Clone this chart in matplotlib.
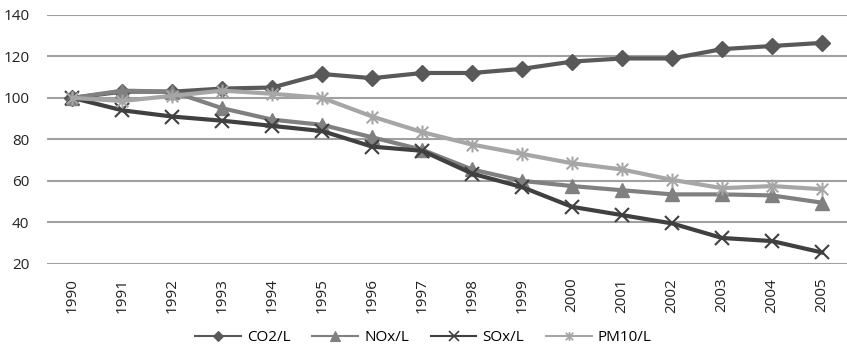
import numpy as np
import matplotlib.pyplot as plt
from matplotlib.path import Path
from matplotlib.lines import Line2D

years = [str(y) for y in range(1990, 2006)]
co2 = [100, 103, 103, 104.5, 105, 111.5, 109.5, 112, 112, 114, 117.5, 119, 119, 123.5, 125, 126.5]
nox = [100, 103.5, 103, 95, 89.5, 87, 81, 75, 65.5, 60, 57.5, 55.5, 53.5, 53.5, 53, 49.5]
sox = [100, 94, 91, 89, 86.5, 84, 76.5, 74.5, 63.5, 57, 47.5, 43.5, 39.5, 32.5, 31, 25.5]
pm10 = [100, 98.5, 101, 103.5, 102, 100, 91, 83.5, 77.5, 73, 68.5, 65.5, 60.5, 56.5, 57.5, 56]

# excel style star: an x with a vertical bar through it
star = Path([(-1, -1), (1, 1), (-1, 1), (1, -1), (0, -1.2), (0, 1.2)],
            [Path.MOVETO, Path.LINETO, Path.MOVETO, Path.LINETO, Path.MOVETO, Path.LINETO])

plt.rcParams['font.family'] = ['Open Sans', 'DejaVu Sans']

fig = plt.figure(figsize=(8.47, 3.63), dpi=100)
ax = fig.add_axes([0.056, 0.273, 0.944, 0.686])

x = np.arange(len(years))
series = [
    ('CO2/L', co2, '#595959', 'D', 8, 1.0),
    ('NOx/L', nox, '#808080', '^', 10, 1.0),
    ('SOx/L', sox, '#404040', 'x', 10, 1.5),
    ('PM10/L', pm10, '#a6a6a6', star, 10, 1.5),
]
handles = []
for label, vals, c, m, ms, mew in series:
    ax.plot(x, vals, color=c, lw=3, marker=m, ms=ms, mew=mew)
    # legend keys are drawn thinner, like excel does
    handles.append(Line2D([], [], color=c, lw=1.5, marker=m, ms=ms * 0.65, mew=mew * 0.8, label=label))

ax.set_xlim(-0.5, len(years) - 0.5)
ax.set_ylim(20, 140)
ax.set_yticks(range(20, 141, 20))
ax.set_xticks(x)
ax.set_xticklabels(years, rotation=90)
ax.grid(axis='y', color='#a0a0a0', lw=1.5)
ax.set_axisbelow(True)
for s in ax.spines.values():
    s.set_visible(False)
ax.tick_params(length=0, labelsize=11, colors='#222222')
ax.tick_params(axis='x', pad=10)
ax.tick_params(axis='y', pad=13)

fig.legend(handles=handles, loc='center', bbox_to_anchor=(0.5, 0.07), ncol=4, frameon=False,
           fontsize=11, handlelength=3, columnspacing=1.4, handletextpad=0.4)

fig.savefig('out.png', dpi=100)
